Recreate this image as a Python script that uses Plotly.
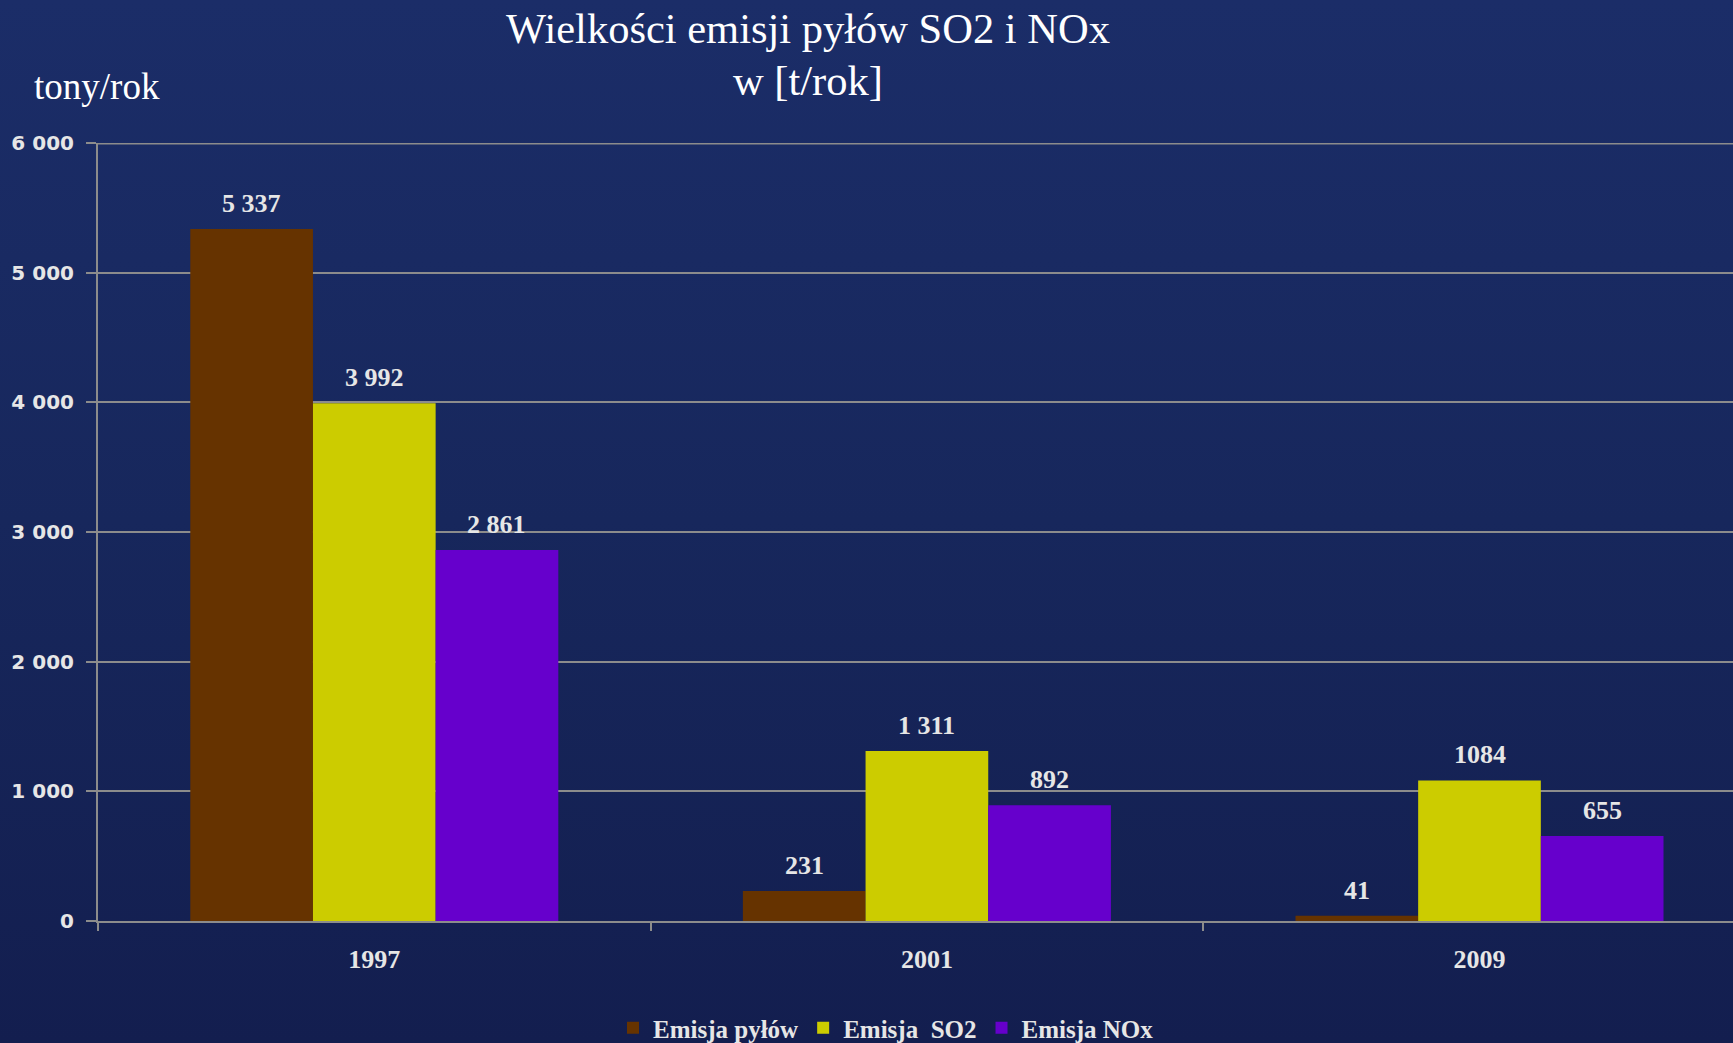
import base64
import plotly.graph_objects as go

# Emission data (tonnes per year)
years = ["1997", "2001", "2009"]
dust = [5337, 231, 41]
so2 = [3992, 1311, 1084]
nox = [2861, 892, 655]

dust_labels = ["5 337", "231", "41"]
so2_labels = ["3 992", "1 311", "1084"]
nox_labels = ["2 861", "892", "655"]

series_names = ["Emisja pyłów", "Emisja  SO2", "Emisja NOx"]
series_colors = ["#663300", "#cccc00", "#6600cc"]

y_ticks = [0, 1000, 2000, 3000, 4000, 5000, 6000]
y_tick_text = ["0", "1 000", "2 000", "3 000", "4 000", "5 000", "6 000"]

W, H = 1733, 1043
M_L, M_R, M_T, M_B = 98, 0, 143, 122
PW, PH = W - M_L - M_R, H - M_T - M_B


def px_x(x):
    return (x - M_L) / PW


def px_y(y):
    return (H - M_B - y) / PH


TEXT = "#e6e6e6"
GRID = "#8c8c8c"

fig = go.Figure()
series = [dust, so2, nox]
labels = [dust_labels, so2_labels, nox_labels]
for name, vals, col in zip(series_names, series, series_colors):
    fig.add_trace(go.Bar(x=years, y=vals, name=name, marker=dict(color=col, line=dict(width=0))))

# value labels above the bars
bargap = 0.334
bw = (1 - bargap) / 3
offsets = [-bw, 0, bw]
for vals, labs, off in zip(series, labels, offsets):
    for i, (v, t) in enumerate(zip(vals, labs)):
        fig.add_annotation(x=i + off, y=v, xref="x", yref="y", text=t, showarrow=False,
                           yanchor="bottom", yshift=9,
                           font=dict(family="Liberation Serif", size=26, color=TEXT, weight="bold"))

# titles
fig.add_annotation(x=px_x(808), y=px_y(28), xref="paper", yref="paper",
                   text="Wielkości emisji pyłów SO2 i NOx", showarrow=False,
                   xanchor="center", yanchor="middle",
                   font=dict(family="Liberation Serif", size=42.5, color="white"))
fig.add_annotation(x=px_x(808), y=px_y(80), xref="paper", yref="paper",
                   text="w [t/rok]", showarrow=False,
                   xanchor="center", yanchor="middle",
                   font=dict(family="Liberation Serif", size=42.5, color="white"))
fig.add_annotation(x=px_x(32), y=px_y(86), xref="paper", yref="paper",
                   text="tony/rok", showarrow=False,
                   xanchor="left", yanchor="middle",
                   font=dict(family="Liberation Serif", size=37, color="white"))

# top gridline at the edge of the plotting area
fig.add_shape(type="line", xref="paper", yref="y", x0=0, x1=1, y0=6000, y1=6000,
              line=dict(color=GRID, width=3), layer="below")

# navy gradient backdrop
svg = (
    '<svg xmlns="http://www.w3.org/2000/svg" width="100" height="100" preserveAspectRatio="none">'
    '<defs><linearGradient id="g" x1="0" y1="0" x2="0" y2="1">'
    '<stop offset="0" stop-color="#1b2d68"/><stop offset="0.5" stop-color="#17275c"/>'
    '<stop offset="1" stop-color="#131e4f"/></linearGradient></defs>'
    '<rect width="100" height="100" fill="url(#g)"/></svg>'
)
bg_src = "data:image/svg+xml;base64," + base64.b64encode(svg.encode()).decode()
fig.add_layout_image(source=bg_src, xref="paper", yref="paper",
                     x=px_x(0), y=px_y(0), sizex=W / PW, sizey=H / PH,
                     xanchor="left", yanchor="top", sizing="stretch", layer="below")

fig.update_layout(
    width=W, height=H,
    margin=dict(l=M_L, r=M_R, t=M_T, b=M_B, autoexpand=False),
    paper_bgcolor="#17265a",
    plot_bgcolor="rgba(0,0,0,0)",
    barmode="group",
    bargap=bargap,
    bargroupgap=0,
    showlegend=True,
    legend=dict(orientation="h", x=px_x(886), xanchor="center", y=px_y(1028), yanchor="middle",
                font=dict(family="Liberation Serif", size=25, color=TEXT, weight="bold"),
                itemwidth=30, bgcolor="rgba(0,0,0,0)"),
    xaxis=dict(type="category", range=[-0.5, -0.5 + PW / 552.6],
               showline=True, linecolor=GRID, linewidth=2,
               ticks="outside", tickson="boundaries", ticklen=8, tickcolor=GRID, tickwidth=2,
               showgrid=False, ticklabelstandoff=14,
               tickfont=dict(family="Liberation Serif", size=26, color=TEXT, weight="bold")),
    yaxis=dict(range=[0, 6000], tickvals=y_ticks, ticktext=y_tick_text,
               showline=True, linecolor=GRID, linewidth=2,
               ticks="outside", ticklen=10, tickcolor=GRID, tickwidth=2,
               showgrid=True, gridcolor=GRID, gridwidth=2, zeroline=False,
               ticklabelstandoff=8,
               tickfont=dict(family="DejaVu Sans", size=20, color=TEXT, weight="bold")),
)

fig.write_html("out.html")
